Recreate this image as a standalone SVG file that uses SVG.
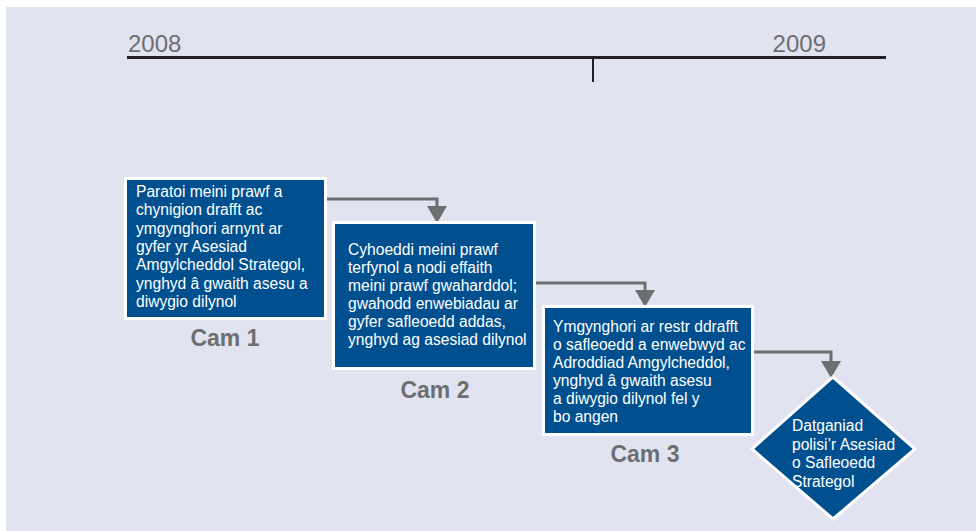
<svg xmlns="http://www.w3.org/2000/svg" width="976" height="531" viewBox="0 0 976 531">
<defs>
<style>
.box{fill:#00508f;stroke:#ffffff;stroke-width:3}
.t{font-family:"Liberation Sans",Arial,sans-serif;font-size:15.6px;fill:#ffffff}
.cam{font-family:"Liberation Sans",Arial,sans-serif;font-size:23px;font-weight:bold;fill:#6d6e70;text-anchor:middle}
.yr{font-family:"Liberation Sans",Arial,sans-serif;font-size:24px;fill:#6d6e70}
.conn{fill:none;stroke:#6d6e70;stroke-width:3}
.head{fill:#6d6e70}
</style>
</defs>
<rect x="6" y="7" width="970" height="524" fill="#e1e4f0"/>
<g id="timeline">
<line x1="127" y1="57.5" x2="886" y2="57.5" stroke="#231f20" stroke-width="3"/>
<line x1="593" y1="57" x2="593" y2="82" stroke="#231f20" stroke-width="2"/>
<text class="yr" x="128" y="52">2008</text>
<text class="yr" x="826" y="52" text-anchor="end">2009</text>
</g>
<g id="connectors">
<path class="conn" d="M327,199 H437 V207"/>
<path class="head" d="M427,206 L447,206 L437,223 Z"/>
<path class="conn" d="M536,283 H645 V291"/>
<path class="head" d="M635,290 L655,290 L645,307 Z"/>
<path class="conn" d="M754,352 H831 V362"/>
<path class="head" d="M821,361 L841,361 L831,378 Z"/>
</g>
<g id="cam1">
<rect class="box" x="125.5" y="178.5" width="200" height="140"/>
<text class="t" x="136" y="197">Paratoi meini prawf a</text>
<text class="t" x="136" y="215.3">chynigion drafft ac</text>
<text class="t" x="136" y="233.6">ymgynghori arnynt ar</text>
<text class="t" x="136" y="251.9">gyfer yr Asesiad</text>
<text class="t" x="136" y="270.2">Amgylcheddol Strategol,</text>
<text class="t" x="136" y="288.5">ynghyd â gwaith asesu a</text>
<text class="t" x="136" y="306.8">diwygio dilynol</text>
<text class="cam" x="225" y="346">Cam 1</text>
</g>
<g id="cam2">
<rect class="box" x="333.5" y="222.5" width="201" height="146"/>
<text class="t" x="348" y="254.5">Cyhoeddi meini prawf</text>
<text class="t" x="348" y="272.5">terfynol a nodi effaith</text>
<text class="t" x="348" y="290.5">meini prawf gwaharddol;</text>
<text class="t" x="348" y="308.5">gwahodd enwebiadau ar</text>
<text class="t" x="348" y="326.5">gyfer safleoedd addas,</text>
<text class="t" x="348" y="344.5">ynghyd ag asesiad dilynol</text>
<text class="cam" x="435" y="398">Cam 2</text>
</g>
<g id="cam3">
<rect class="box" x="543.5" y="306.5" width="209" height="128"/>
<text class="t" x="553" y="332">Ymgynghori ar restr ddrafft</text>
<text class="t" x="553" y="350">o safleoedd a enwebwyd ac</text>
<text class="t" x="553" y="368">Adroddiad Amgylcheddol,</text>
<text class="t" x="553" y="386">ynghyd â gwaith asesu</text>
<text class="t" x="553" y="404">a diwygio dilynol fel y</text>
<text class="t" x="553" y="422">bo angen</text>
<text class="cam" x="645" y="462">Cam 3</text>
</g>
<g id="datganiad">
<polygon class="box" points="833,377 915,449 833,519 752,449"/>
<text class="t" x="792" y="431">Datganiad</text>
<text class="t" x="792" y="449.5">polisi’r Asesiad</text>
<text class="t" x="792" y="468">o Safleoedd</text>
<text class="t" x="792" y="486.5">Strategol</text>
</g>
</svg>
